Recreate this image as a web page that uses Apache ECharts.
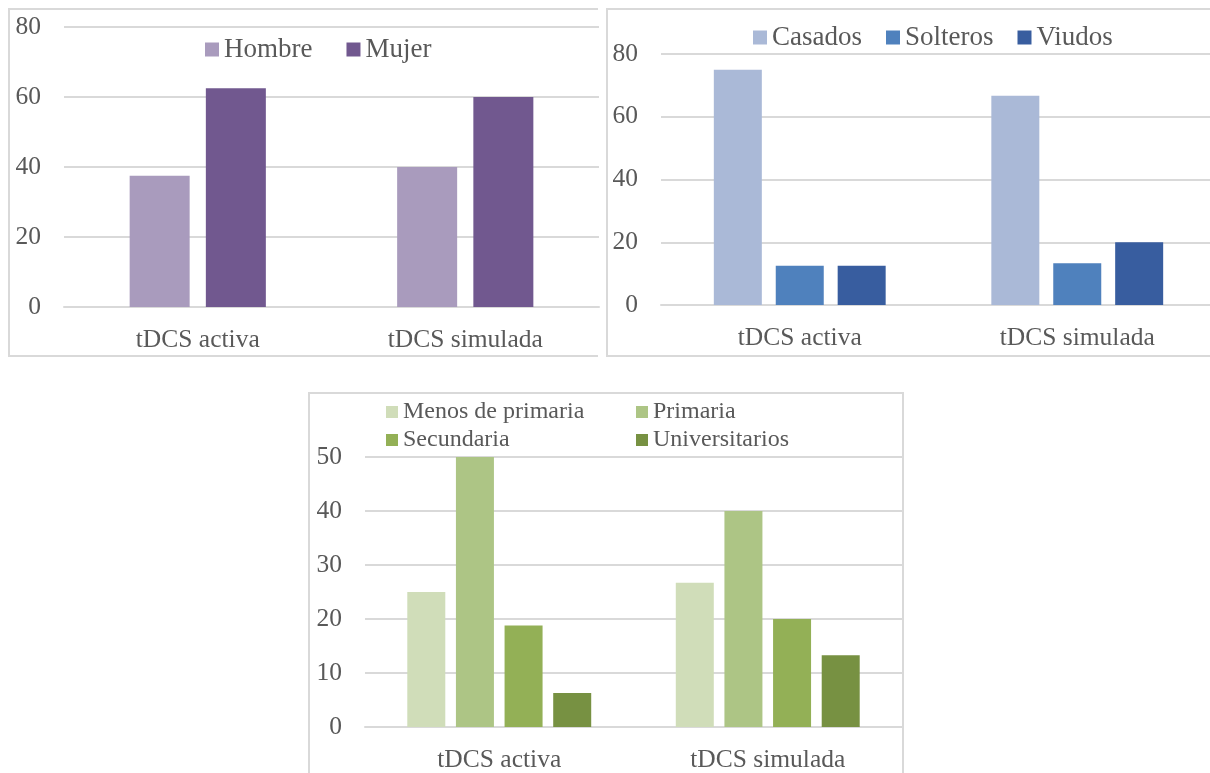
<!DOCTYPE html>
<html>
<head>
<meta charset="utf-8">
<script src="https://cdn.jsdelivr.net/npm/echarts@6/dist/echarts.min.js"></script>
<style>
  html, body { margin: 0; padding: 0; background: #ffffff; }
  #chart { width: 1210px; height: 773px; }
</style>
</head>
<body>
<div id="chart"></div>
<script>
// Shared categories
const categories = ['tDCS activa', 'tDCS simulada'];

// Sexo (%)
const hombre = [37.5, 40];
const mujer = [62.5, 60];

// Estado civil (%)
const casados = [75, 66.7];
const solteros = [12.5, 13.3];
const viudos = [12.5, 20];

// Nivel de estudios (%)
const menosPrimaria = [25, 26.7];
const primaria = [50, 40];
const secundaria = [18.8, 20];
const universitarios = [6.3, 13.3];

// Value-axis ranges [min, max, interval]
const axisSexo = [0, 80, 20];
const axisCivil = [0, 80, 20];
const axisEstudios = [0, 50, 10];

const FONT = "'Liberation Serif', 'Times New Roman', serif";
const TEXT = '#595959';
const LINE = '#d9d9d9';

function valueAxis(idx, range) {
  return {
    type: 'value', gridIndex: idx,
    min: range[0], max: range[1], interval: range[2],
    axisLine: { show: false }, axisTick: { show: false },
    axisLabel: { color: TEXT, fontFamily: FONT, fontSize: 25.5, margin: 23 },
    splitLine: { lineStyle: { color: LINE, width: 2 } }
  };
}
function catAxis(idx) {
  return {
    type: 'category', gridIndex: idx, data: categories,
    axisLine: { lineStyle: { color: LINE, width: 2 } },
    axisTick: { show: false },
    axisLabel: { color: TEXT, fontFamily: FONT, fontSize: 25.5, margin: 20 }
  };
}
function bar(name, data, idx, color, width, gap) {
  return {
    name: name, type: 'bar', data: data,
    xAxisIndex: idx, yAxisIndex: idx,
    barWidth: width, barGap: gap,
    itemStyle: { color: color },
    animation: false
  };
}
function legend(names, left, top, orient, gap, size, fs) {
  return {
    data: names, left: left, top: top, orient: orient,
    itemGap: gap, itemWidth: size, itemHeight: size, icon: 'rect',
    selectedMode: false, padding: 0,
    textStyle: { color: TEXT, fontFamily: FONT, fontSize: fs }
  };
}
function border(points) {
  return {
    type: 'polyline', silent: true,
    shape: { points: points },
    style: { stroke: LINE, lineWidth: 2, fill: null }
  };
}

const chart = echarts.init(document.getElementById('chart'), null, { renderer: 'canvas' });
chart.setOption({
  backgroundColor: '#ffffff',
  animation: false,
  grid: [
    { left: 64, top: 27, width: 535, height: 280, outerBoundsMode: 'none' },
    { left: 661, top: 54, width: 555, height: 251, outerBoundsMode: 'none' },
    { left: 365, top: 457, width: 537, height: 270, outerBoundsMode: 'none' }
  ],
  xAxis: [catAxis(0), catAxis(1), catAxis(2)],
  yAxis: [valueAxis(0, axisSexo), valueAxis(1, axisCivil), valueAxis(2, axisEstudios)],
  legend: [
    legend(['Hombre', 'Mujer'], 205, 36, 'horizontal', 34, 14, 27),
    legend(['Casados', 'Solteros', 'Viudos'], 753, 24, 'horizontal', 24, 14, 27),
    legend(['Menos de primaria', 'Secundaria'], 386, 400, 'vertical', 4, 12, 24),
    legend(['Primaria', 'Universitarios'], 636, 400, 'vertical', 4, 12, 24)
  ],
  graphic: [
    border([[598, 9], [9, 9], [9, 356], [598, 356]]),
    border([[1212, 9], [607, 9], [607, 356], [1212, 356]]),
    border([[309, 775], [309, 393], [903, 393], [903, 775]])
  ],
  series: [
    bar('Hombre', hombre, 0, '#a99bbd', 60, '27%'),
    bar('Mujer', mujer, 0, '#71588f', 60, '27%'),
    bar('Casados', casados, 1, '#aab9d7', 48, '29%'),
    bar('Solteros', solteros, 1, '#4f81bd', 48, '29%'),
    bar('Viudos', viudos, 1, '#385d9f', 48, '29%'),
    bar('Menos de primaria', menosPrimaria, 2, '#d0ddb9', 38, '28%'),
    bar('Primaria', primaria, 2, '#adc585', 38, '28%'),
    bar('Secundaria', secundaria, 2, '#93b056', 38, '28%'),
    bar('Universitarios', universitarios, 2, '#779142', 38, '28%')
  ]
});
</script>
</body>
</html>
